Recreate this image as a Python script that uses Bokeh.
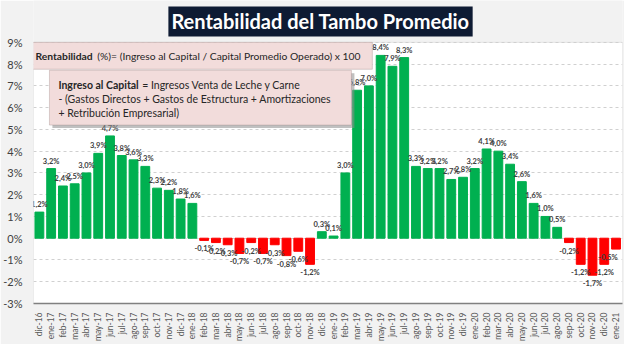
from bokeh.plotting import figure
from bokeh.models import ColumnDataSource, Label, BoxAnnotation, FixedTicker, Range1d
from bokeh.embed import file_html
from bokeh.resources import INLINE
from bokeh.core.properties import value

months = ["dic-16",
          "ene-17", "feb-17", "mar-17", "abr-17", "may-17", "jun-17", "jul-17", "ago-17", "sep-17", "oct-17", "nov-17", "dic-17",
          "ene-18", "feb-18", "mar-18", "abr-18", "may-18", "jun-18", "jul-18", "ago-18", "sep-18", "oct-18", "nov-18", "dic-18",
          "ene-19", "feb-19", "mar-19", "abr-19", "may-19", "jun-19", "jul-19", "ago-19", "sep-19", "oct-19", "nov-19", "dic-19",
          "ene-20", "feb-20", "mar-20", "abr-20", "may-20", "jun-20", "jul-20", "ago-20", "sep-20", "oct-20", "nov-20", "dic-20",
          "ene-21"]
rentabilidad = [1.2,
                3.2, 2.4, 2.5, 3.0, 3.9, 4.7, 3.8, 3.6, 3.3, 2.3, 2.2, 1.8,
                1.6, -0.1, -0.2, -0.3, -0.7, -0.2, -0.7, -0.3, -0.8, -0.6, -1.2, 0.3,
                0.1, 3.0, 6.8, 7.0, 8.4, 7.9, 8.3, 3.3, 3.2, 3.2, 2.7, 2.8,
                3.2, 4.1, 4.0, 3.4, 2.6, 1.6, 1.0, 0.5, -0.2, -1.2, -1.7, -1.2,
                -0.5]
y_ticks = [-3, -2, -1, 0, 1, 2, 3, 4, 5, 6, 7, 8, 9]

GREEN = "#00b050"
RED = "#ff0000"

xs = list(range(len(months)))
last = len(months) - 1
colors = [GREEN if v >= 0 else RED for v in rentabilidad]
labels = [("%.1f%%" % v).replace(".", ",") for v in rentabilidad]

src = ColumnDataSource(dict(x=xs, top=rentabilidad, color=colors))
pos = ColumnDataSource(dict(x=[x for x, v in zip(xs, rentabilidad) if v >= 0],
                            y=[v for v in rentabilidad if v >= 0],
                            t=[l for l, v in zip(labels, rentabilidad) if v >= 0]))
neg_x = [x for x, v in zip(xs, rentabilidad) if v < 0]
neg = ColumnDataSource(dict(x=neg_x,
                            y=[v for v in rentabilidad if v < 0],
                            t=[l for l, v in zip(labels, rentabilidad) if v < 0],
                            xo=[-8 if x == last else 0 for x in neg_x]))

# layout (figure pixels)
W, H = 624, 344
FL, FR, FB = 31, 622, 304          # frame left / right / bottom; frame top = 0
TOP9 = 42                          # pixel row of the 9% line
X0, X1 = -0.5, 49.55
Y0 = -3
PY = (FB - TOP9) / (9 - Y0)
Y1 = 9 + TOP9 / PY
PX = (FR - FL) / (X1 - X0)

def dx(px):
    return X0 + (px - FL) / PX
def dy(py):
    return Y1 - py / PY

p = figure(width=W, height=H, output_backend="svg", toolbar_location=None,
           x_range=Range1d(X0, X1), y_range=Range1d(Y0, Y1),
           min_border_left=FL, min_border_right=W - FR, min_border_top=0, min_border_bottom=H - FB)
p.title.visible = False
p.background_fill_color = "#f2f2f2"
p.border_fill_color = "#f2f2f2"
p.outline_line_color = None

# white plot area
p.add_layout(BoxAnnotation(left=X0, right=X1, bottom=-3, top=9, fill_color="white", fill_alpha=1,
                           line_color="#b0b0b0", line_width=1, level="image"))

p.vbar(x="x", top="top", bottom=0, width=0.75, color="color", source=src)

font = value("Lato")
p.text(x="x", y="y", text="t", source=pos, text_align="center", text_baseline="bottom",
       y_offset=-3, text_font=font, text_font_size="7.5px", text_font_style="bold", text_color="#404040")
p.text(x="x", y="y", text="t", source=neg, text_align="center", text_baseline="top",
       x_offset="xo", y_offset=4, text_font=font, text_font_size="7.5px", text_font_style="bold",
       text_color="#404040")

# axes
p.xaxis.ticker = FixedTicker(ticks=xs)
p.xaxis.major_label_overrides = {i: m for i, m in enumerate(months)}
p.xaxis.major_label_orientation = 3.14159265 / 2
p.xaxis.major_label_text_font = "Lato"
p.xaxis.major_label_text_font_size = "8.5px"
p.xaxis.major_label_text_color = "#595959"
p.xaxis.major_label_standoff = 3
p.xaxis.major_tick_line_color = None
p.xaxis.minor_tick_line_color = None
p.xaxis.axis_line_color = "#808080"
p.xaxis.axis_line_width = 1.5

p.yaxis.ticker = FixedTicker(ticks=y_ticks)
p.yaxis.major_label_overrides = {t: "%d%%" % t for t in y_ticks}
p.yaxis.major_label_text_font = "Lato"
p.yaxis.major_label_text_font_size = "11px"
p.yaxis.major_label_text_color = "#404040"
p.yaxis.major_label_standoff = 5
p.yaxis.major_tick_line_color = None
p.yaxis.minor_tick_line_color = None
p.yaxis.axis_line_color = None

p.xgrid.grid_line_color = None
p.ygrid.grid_line_color = "#d0d0d0"
p.ygrid.grid_line_dash = "3 3"

# formula boxes
p.add_layout(BoxAnnotation(left=dx(50), right=dx(353), top=dy(73), bottom=dy(128),
                           fill_color="#8c8c8c", fill_alpha=0.55, line_color=None, level="overlay"))
p.add_layout(BoxAnnotation(left=dx(47), right=dx(350), top=dy(70), bottom=dy(125),
                           fill_color="#f2dcdb", fill_alpha=1, line_color="#8c7070", line_width=1, level="overlay"))
p.add_layout(BoxAnnotation(left=dx(26), right=dx(371), top=dy(42), bottom=dy(69),
                           fill_color="#f2dcdb", fill_alpha=1, line_color="#8c7070", line_width=1, level="overlay"))

def lab(txt, px, py, bold=False, size="10.5px"):
    p.add_layout(Label(x=dx(px), y=dy(py), text=txt, text_font="Lato", text_font_size=size,
                       text_font_style="bold" if bold else "normal", text_color="#262626",
                       text_align="left", text_baseline="middle", level="overlay"))

lab("Rentabilidad", 33, 55.5, bold=True, size="10.3px")
lab("(%)= (Ingreso al Capital / Capital Promedio Operado) x 100", 95, 55.5, size="10.3px")
lab("Ingreso al Capital", 56, 85, bold=True)
lab("= Ingresos Venta de Leche  y Carne", 140, 85)
lab("-  (Gastos Directos + Gastos de Estructura  + Amortizaciones", 56, 99)
lab("+  Retribución Empresarial)", 56, 113)

# title
p.add_layout(Label(x=dx(319), y=dy(21), text="Rentabilidad del Tambo Promedio",
                   text_font="Lato", text_font_size="20px", text_font_style="bold",
                   text_color="white", text_align="center", text_baseline="middle",
                   background_fill_color="#0e1b33", background_fill_alpha=1, padding=3,
                   level="overlay"))

open("out.html", "w").write(file_html(p, INLINE))
